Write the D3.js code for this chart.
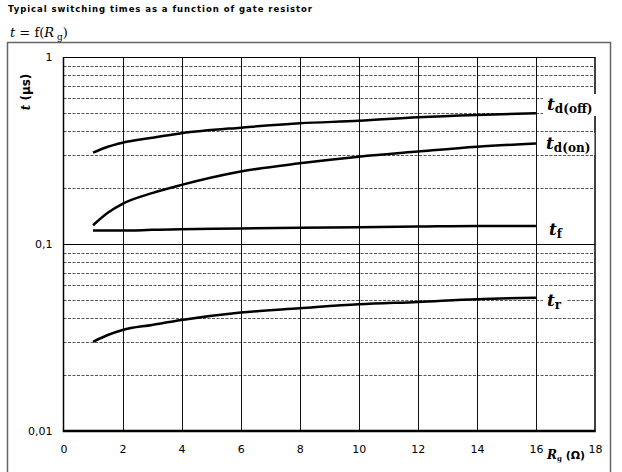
<!DOCTYPE html>
<html>
<head>
<meta charset="utf-8">
<script src="https://cdn.jsdelivr.net/npm/d3@7"></script>
<style>
  body { margin: 0; background: #fff; }
  svg { display: block; }
</style>
</head>
<body>
<div class="chart"></div>
<script>
// values
var rgValues = [1, 1.5, 2, 3, 4, 6, 8, 10, 12, 14, 16];
var tdOff = [0.308, 0.331, 0.348, 0.37, 0.391, 0.419, 0.442, 0.456, 0.476, 0.49, 0.50];
var tdOn = [0.126, 0.147, 0.164, 0.187, 0.207, 0.244, 0.27, 0.293, 0.312, 0.331, 0.345];
var tf = [0.118, 0.118, 0.118, 0.119, 0.12, 0.121, 0.122, 0.123, 0.124, 0.125, 0.125];
var tr = [0.030, 0.0326, 0.0347, 0.0369, 0.0392, 0.043, 0.0453, 0.0476, 0.049, 0.0507, 0.0516];

var xTicks = [0, 2, 4, 6, 8, 10, 12, 14, 16, 18];
var yTicks = [1, 0.1, 0.01];
var seriesNames = ["d(off)", "d(on)", "f", "r"];

var svgWidth = 622;
var svgHeight = 472;

var svg = d3.select(".chart")
  .append("svg")
  .attr("width", svgWidth)
  .attr("height", svgHeight);

var x = d3.scaleLinear().domain([0, 18]).range([63.5, 595]);
var y = d3.scaleLog().domain([0.01, 1]).range([431, 57]);

// outer frame
svg.append("rect")
  .attr("x", 7.5).attr("y", 42.5)
  .attr("width", 603).attr("height", 440)
  .attr("fill", "none")
  .attr("stroke", "#666")
  .attr("stroke-width", 1.5);

// title
svg.append("text")
  .attr("x", 8).attr("y", 12)
  .attr("font-family", "DejaVu Sans, Verdana, sans-serif")
  .attr("font-size", "8.5px")
  .attr("font-weight", "bold")
  .attr("textLength", 304)
  .attr("lengthAdjust", "spacing")
  .text("Typical switching times as a function of gate resistor");

var sub = svg.append("text")
  .attr("x", 10).attr("y", 37)
  .attr("font-family", "DejaVu Serif, Liberation Serif, serif")
  .attr("font-size", "13px");
sub.append("tspan").attr("font-style", "italic").text("t");
sub.append("tspan").text(" = f(");
sub.append("tspan").attr("font-style", "italic").text("R");
sub.append("tspan").attr("font-size", "9px").attr("dy", 3).text(" g");
sub.append("tspan").attr("dy", -3).text(")");

// horizontal dashed grid at minor decades
var minor = [];
[0.01, 0.1].forEach(function(d) {
  for (var k = 2; k <= 9; k++) minor.push(d * k);
});

svg.append("g").selectAll("line")
  .data(minor)
  .enter()
  .append("line")
  .attr("x1", x(0)).attr("x2", x(18))
  .attr("y1", d => Math.round(y(d)) + 0.5)
  .attr("y2", d => Math.round(y(d)) + 0.5)
  .attr("stroke", "#555")
  .attr("stroke-dasharray", "3,1.5");

// solid line at 0.1
svg.append("line")
  .attr("x1", x(0)).attr("x2", x(18))
  .attr("y1", Math.round(y(0.1)) + 0.5).attr("y2", Math.round(y(0.1)) + 0.5)
  .attr("stroke", "#000");

// vertical grid
svg.append("g").selectAll("line")
  .data(xTicks.slice(1, -1))
  .enter()
  .append("line")
  .attr("x1", d => Math.round(x(d)) + 0.5)
  .attr("x2", d => Math.round(x(d)) + 0.5)
  .attr("y1", y(1)).attr("y2", y(0.01))
  .attr("stroke", "#111");

// plot box
svg.append("line").attr("x1", x(0)).attr("x2", x(18)).attr("y1", 57.5).attr("y2", 57.5)
  .attr("stroke", "#000").attr("stroke-width", 1.2);
svg.append("line").attr("x1", x(0)).attr("x2", x(0)).attr("y1", 57).attr("y2", 431)
  .attr("stroke", "#000").attr("stroke-width", 1.5);
svg.append("line").attr("x1", x(18)).attr("x2", x(18)).attr("y1", 57).attr("y2", 431)
  .attr("stroke", "#000").attr("stroke-width", 1.5);
svg.append("line").attr("x1", x(0) - 0.75).attr("x2", x(18) + 0.75).attr("y1", 431).attr("y2", 431)
  .attr("stroke", "#000").attr("stroke-width", 2.5);

// axes (labels only)
var comma = d3.formatLocale({ decimal: ",", thousands: ".", grouping: [3], currency: ["", ""] });

var leftAxis = d3.axisLeft(y).tickValues(yTicks).tickSize(0).tickPadding(11)
  .tickFormat(comma.format("~g"));
var yAxisG = svg.append("g").attr("transform", `translate(${x(0)},0)`).call(leftAxis);

var bottomAxis = d3.axisBottom(x).tickValues(xTicks).tickSize(0).tickPadding(14);
var xAxisG = svg.append("g").attr("transform", `translate(0,${y(0.01)})`).call(bottomAxis);

[yAxisG, xAxisG].forEach(function(g) {
  g.select(".domain").remove();
  g.selectAll("text")
    .attr("font-family", "DejaVu Sans, Verdana, sans-serif")
    .attr("font-size", "11px")
    .attr("fill", "#000");
});

// curves
var line = d3.line()
  .x(d => x(d[0]))
  .y(d => y(d[1]))
  .curve(d3.curveMonotoneX);

[tdOff, tdOn, tf, tr].forEach(function(vals) {
  svg.append("path")
    .datum(rgValues.map((r, i) => [r, vals[i]]))
    .attr("d", line)
    .attr("fill", "none")
    .attr("stroke", "#000")
    .attr("stroke-width", 2.5);
});

// curve labels with white background
var labelPos = [
  { x: 547, y: 110 },
  { x: 546, y: 149 },
  { x: 549, y: 235 },
  { x: 547, y: 306 }
];

seriesNames.forEach(function(name, i) {
  var g = svg.append("g");
  var bg = g.append("rect").attr("fill", "#fff");
  var t = g.append("text")
    .attr("x", labelPos[i].x).attr("y", labelPos[i].y)
    .attr("font-family", "DejaVu Serif, Liberation Serif, serif")
    .attr("font-weight", "bold");
  t.append("tspan").attr("font-style", "italic").attr("font-size", "17px").text("t");
  t.append("tspan").attr("font-size", "12px").attr("dy", 3).text(name);
  var b = t.node().getBBox();
  bg.attr("x", b.x - 4).attr("y", b.y)
    .attr("width", b.width + 8).attr("height", b.height);
});

// axis titles
var yt = svg.append("text")
  .attr("transform", "translate(30,92) rotate(-90)")
  .attr("text-anchor", "middle")
  .attr("font-weight", "bold")
  .attr("font-size", "12px");
yt.append("tspan").attr("font-family", "DejaVu Serif, serif").attr("font-style", "italic").text("t");
yt.append("tspan").attr("font-family", "DejaVu Sans, Verdana, sans-serif").text(" (µs)");

var xt = svg.append("text")
  .attr("x", 547).attr("y", 459)
  .attr("font-weight", "bold")
  .attr("font-size", "11px");
xt.append("tspan").attr("font-family", "DejaVu Serif, serif").attr("font-style", "italic").attr("font-size", "12px").text("R");
xt.append("tspan").attr("font-family", "DejaVu Serif, serif").attr("font-size", "7px").attr("dy", 2).text("g");
xt.append("tspan").attr("font-family", "DejaVu Sans, Verdana, sans-serif").attr("dy", -2).text(" (Ω)");
</script>
</body>
</html>
